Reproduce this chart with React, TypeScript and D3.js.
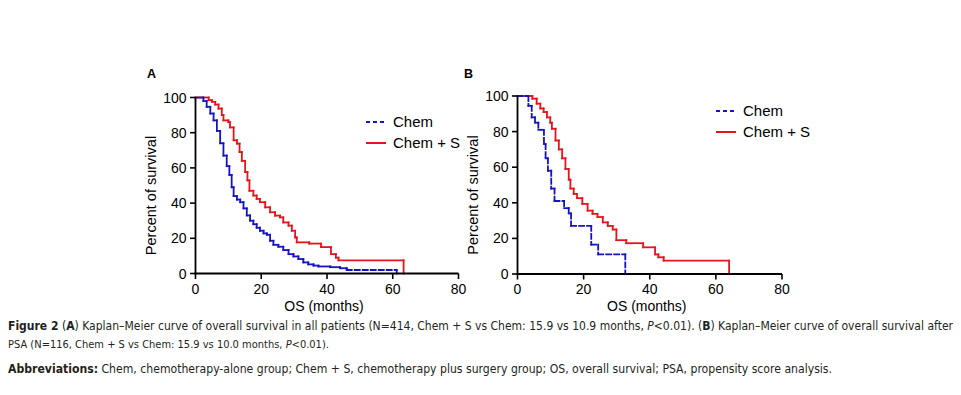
import React from "react";
import * as d3 from "d3";

// survival steps: [month, percent after the drop]
const chemA: [number, number][] = [
    [2.4, 98], [3.4, 94.7], [4.5, 90.9], [5.5, 87], [6.5, 81], [7.5, 74], [8.5, 67], [9.5, 61],
    [10.3, 56], [11, 49], [11.6, 44], [12.6, 42], [13.6, 40.5], [14.6, 37], [15.6, 33], [16.6, 30],
    [17.6, 28], [18.6, 26], [19.6, 24.3], [20.7, 22.8], [21.7, 22], [22.7, 18.6], [23.7, 16.3],
    [25.2, 15.2], [26.7, 13.3], [28.3, 11], [29.8, 9.7], [31.3, 8.2], [32.8, 6.3], [34.3, 5.2],
    [35.9, 4.5], [37.4, 4], [41, 3.6], [44, 3], [46, 2], [61.2, 0]
];
const chemSA: [number, number][] = [
    [4, 98.5], [5, 97.5], [6, 96], [7, 93.7], [8, 90], [8.5, 87], [10, 86], [10.5, 83],
    [11.6, 75.7], [12.6, 73.8], [13.4, 69], [14.1, 64], [15.1, 57.6], [15.8, 52.9], [16.4, 47],
    [17.6, 44.3], [18.6, 42.4], [19.6, 40.5], [21.2, 37.6], [22.7, 34.8], [24.2, 32.9],
    [25.7, 31.9], [26.7, 29], [28.3, 27.2], [29.3, 24.3], [30.3, 20.5], [30.8, 17.7], [34.6, 17],
    [38.2, 15], [41.2, 11], [42.7, 9], [43.5, 7.5], [63.3, 0]
];
const chemB: [number, number][] = [
    [3.3, 94.5], [4.3, 88], [5.3, 85], [6.3, 81], [8, 73], [8.5, 65], [9.2, 58], [10.2, 48],
    [11.2, 41], [14.1, 37], [15.5, 34], [16.2, 27], [22.3, 16.5], [24.4, 11], [32.6, 0]
];
const chemSB: [number, number][] = [
    [4.5, 98.5], [5.8, 95.7], [6.9, 93], [7.9, 91], [8.9, 88], [9.9, 85], [10.4, 81.6],
    [11.5, 75], [12.5, 70], [13.5, 65], [14.5, 59], [15.5, 53], [16, 48], [17, 45], [18, 42.6],
    [19.6, 39.4], [21.2, 35.6], [22.7, 33.8], [24.2, 32], [25.8, 29], [27.3, 27], [28.8, 25],
    [29.9, 19], [32.9, 17.3], [38, 15], [41.6, 11], [42.6, 9.4], [44.2, 7.5], [64, 0]
];

const xTicks = [0, 20, 40, 60, 80];
const yTicks = [0, 20, 40, 60, 80, 100];
const legendLabels = ["Chem", "Chem + S"];

const BLUE = "#1414c4";
const RED = "#e5141b";
const AXIS_FONT = "Arial, 'Liberation Sans', sans-serif";

// each segment is its own line so the dash restarts, like Prism does
const stepSegments = (data: [number, number][]) => {
    const segs: [number, number, number, number][] = [];
    let t0 = 0;
    let s0 = 100;
    data.forEach(([t, s]) => {
        segs.push([t0, s0, t, s0]);
        segs.push([t, s0, t, s]);
        t0 = t;
        s0 = s;
    });
    return segs;
};

const Panel = ({label, chem, chemS, xRange, yRange, legendX, legendY, labelX, solidBelow}) => {
    const x = d3.scaleLinear().domain([0, 80]).range(xRange);
    const y = d3.scaleLinear().domain([0, 100]).range(yRange);
    const y0 = y(0);
    const x0 = x(0);

    const drawCurve = (data, color, dash) =>
        stepSegments(data).map(([a, b, c, d], i) => {
            const len = Math.hypot(x(c) - x(a), y(d) - y(b));
            if (len === 0) return null;
            return (
                <line
                    key={i}
                    x1={x(a)}
                    y1={y(b)}
                    x2={x(c)}
                    y2={y(d)}
                    stroke={color}
                    strokeWidth={1.8}
                    strokeDasharray={dash && len > solidBelow ? dash : null}
                    strokeLinecap="square"
                />
            );
        });

    return (
        <g fontFamily={AXIS_FONT}>
            <text x={labelX} y={78} fontSize={12.5} fontWeight="bold">{label}</text>
            <g>{drawCurve(chemS, RED, null)}</g>
            <g>{drawCurve(chem, BLUE, "5,3")}</g>

            {/* axes */}
            <line x1={x0} x2={x0} y1={y(100)} y2={y0 + 1} stroke="black" strokeWidth={1.8} />
            <line x1={x0 - 1} x2={x(80)} y1={y0} y2={y0} stroke="black" strokeWidth={1.8} />
            {yTicks.map(t => (
                <g key={t}>
                    <line x1={x0 - 5.5} x2={x0} y1={y(t)} y2={y(t)} stroke="black" strokeWidth={1.6} />
                    <text x={x0 - 9} y={y(t) + 5} fontSize={14} textAnchor="end">{t}</text>
                </g>
            ))}
            {xTicks.map(t => (
                <g key={t}>
                    <line x1={x(t)} x2={x(t)} y1={y0} y2={y0 + 5.5} stroke="black" strokeWidth={1.6} />
                    <text x={x(t)} y={y0 + 20} fontSize={14} textAnchor="middle">{t}</text>
                </g>
            ))}
            <text
                x={(xRange[0] + xRange[1]) / 2 - 3}
                y={y0 + 37}
                fontSize={14}
                textAnchor="middle"
            >
                OS (months)
            </text>
            <text
                transform={`translate(${x0 - 40},${(yRange[0] + yRange[1]) / 2 + 10}) rotate(-90)`}
                fontSize={14.5}
                textAnchor="middle"
            >
                Percent of survival
            </text>

            {/* legend */}
            <line x1={legendX} x2={legendX + 20} y1={legendY} y2={legendY}
                  stroke={BLUE} strokeWidth={1.8} strokeDasharray="4,3" />
            <text x={legendX + 27} y={legendY + 5} fontSize={15}>{legendLabels[0]}</text>
            <line x1={legendX} x2={legendX + 20} y1={legendY + 21} y2={legendY + 21}
                  stroke={RED} strokeWidth={2} />
            <text x={legendX + 27} y={legendY + 26} fontSize={15}>{legendLabels[1]}</text>
        </g>
    );
};

export default function App() {
    const captionFont = "'Liberation Sans Narrow', 'DejaVu Sans Condensed', 'Liberation Sans', sans-serif";
    return (
        <svg width={961} height={395} style={{position: "absolute", left: 0, top: 0}}>
            <rect width={961} height={395} fill="white" />
            <Panel
                label="A"
                labelX={147}
                chem={chemA}
                chemS={chemSA}
                xRange={[195.5, 458.5]}
                yRange={[273.5, 97.5]}
                legendX={366}
                legendY={122}
                solidBelow={14}
            />
            <Panel
                label="B"
                labelX={464}
                chem={chemB}
                chemS={chemSB}
                xRange={[517.5, 782]}
                yRange={[274, 96]}
                legendX={716}
                legendY={111}
                solidBelow={5}
            />
            <g fontFamily={captionFont} fontSize={11.5} fill="#231f20">
                <text x={8} y={330} textLength={945} lengthAdjust="spacingAndGlyphs">
                    <tspan fontWeight="bold">Figure 2</tspan> (<tspan fontWeight="bold">A</tspan>) Kaplan–Meier
                    curve of overall survival in all patients (N=414, Chem + S vs Chem: 15.9 vs 10.9 months,{" "}
                    <tspan fontStyle="italic">P</tspan>&lt;0.01). (<tspan fontWeight="bold">B</tspan>) Kaplan–Meier
                    curve of overall survival after
                </text>
                <text x={8} y={348} fontSize={11}>
                    PSA (N=116, Chem + S vs Chem: 15.9 vs 10.0 months, <tspan fontStyle="italic">P</tspan>&lt;0.01).
                </text>
                <text x={8} y={373} textLength={824} lengthAdjust="spacingAndGlyphs">
                    <tspan fontWeight="bold">Abbreviations:</tspan> Chem, chemotherapy-alone group; Chem + S,
                    chemotherapy plus surgery group; OS, overall survival; PSA, propensity score analysis.
                </text>
            </g>
        </svg>
    );
}
